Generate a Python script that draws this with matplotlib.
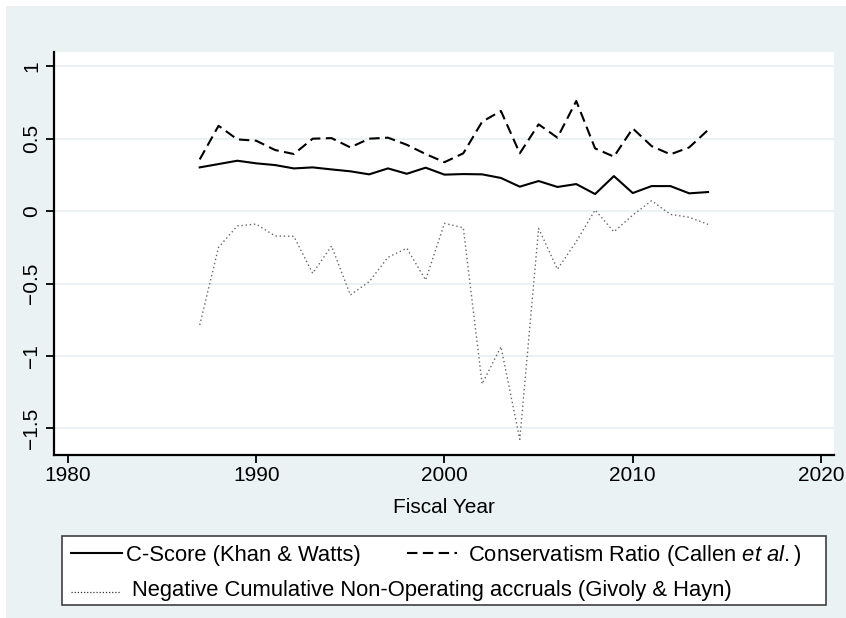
import matplotlib
matplotlib.use("Agg")
import matplotlib.pyplot as plt
import matplotlib.transforms as mtransforms
from matplotlib.lines import Line2D
from matplotlib.patches import Rectangle

plt.rcParams["font.family"] = ["Liberation Sans", "DejaVu Sans"]
plt.rcParams["mathtext.fontset"] = "custom"
plt.rcParams["mathtext.rm"] = "Liberation Sans"
plt.rcParams["mathtext.it"] = "Liberation Sans:italic"

years = list(range(1987, 2015))
c_score = [0.301, 0.324, 0.347, 0.329, 0.317, 0.294, 0.301, 0.287, 0.274, 0.253,
           0.294, 0.257, 0.299, 0.251, 0.255, 0.253, 0.228, 0.168, 0.207, 0.166,
           0.186, 0.117, 0.241, 0.124, 0.172, 0.172, 0.122, 0.131]
cons_ratio = [0.356, 0.588, 0.494, 0.485, 0.421, 0.393, 0.499, 0.503, 0.439, 0.499,
              0.506, 0.457, 0.393, 0.337, 0.398, 0.616, 0.690, 0.398, 0.598, 0.506,
              0.759, 0.432, 0.375, 0.570, 0.448, 0.391, 0.439, 0.559]
neg_accruals = [-0.786, -0.25, -0.103, -0.09, -0.172, -0.175, -0.43, -0.241, -0.579, -0.488,
                -0.319, -0.257, -0.476, -0.085, -0.115, -1.193, -0.936, -1.575, -0.12, -0.402,
                -0.211, 0.007, -0.143, -0.028, 0.071, -0.023, -0.043, -0.092]

x_ticks = [1980, 1990, 2000, 2010, 2020]
y_ticks = [1, 0.5, 0, -0.5, -1, -1.5]
y_tick_labels = ["1", "0.5", "0", "\u22120.5", "\u22121", "\u22121.5"]

labels = ["C-Score (Khan & Watts)",
          "Conservatism Ratio (Callen $\\mathit{et\\ al.}$)",
          "Negative Cumulative Non-Operating accruals (Givoly & Hayn)"]

BG = "#eaf2f3"
W, H = 846, 618

fig = plt.figure(figsize=(W / 100, H / 100), dpi=100, facecolor="white")
# pixel coordinates measured from the top-left corner
px = mtransforms.Affine2D().scale(1 / W, -1 / H).translate(0, 1) + fig.transFigure
fig.add_artist(Rectangle((6, 6), W, H, transform=px, facecolor=BG,
                         edgecolor="none", zorder=-5))

ax = fig.add_axes([54 / W, 1 - 455 / H, (834 - 54) / W, (455 - 52) / H])
ax.set_facecolor("white")

solid_style = dict(color="black", lw=1.5, linestyle="-")
dash_style = dict(color="black", lw=1.5, linestyle=(0, (5, 2.6)))
dot_style = dict(color="#666666", lw=1.0, linestyle=(0, (1, 2)))

ax.plot(years, c_score, **solid_style)
ax.plot(years, cons_ratio, **dash_style)
ax.plot(years, neg_accruals, **dot_style)

ax.set_xlim(1979.26, 2020.69)
ax.set_ylim(-1.683, 1.097)
ax.set_xticks(x_ticks)
ax.set_yticks(y_ticks)
ax.set_yticklabels(y_tick_labels, rotation=90, va="center")
ax.tick_params(axis="both", labelsize=15, length=6, width=1.3, direction="out")
ax.tick_params(axis="x", pad=2)
ax.tick_params(axis="y", pad=3)

ax.grid(axis="y", color=BG, lw=1.5)
ax.set_axisbelow(True)
for side in ("top", "right"):
    ax.spines[side].set_visible(False)
for side in ("left", "bottom"):
    ax.spines[side].set_linewidth(1.6)

ax.set_xlabel("Fiscal Year", fontsize=15)
ax.xaxis.set_label_coords(0.5, -0.1315)
ax.xaxis.label.set_va("center")

# legend box in the Stata layout: two keys on row one, the long key on row two
fig.add_artist(Rectangle((62, 536), 826 - 62, 605 - 536, transform=px,
                         facecolor="white", edgecolor="#404040", lw=1.2))
fs = 15.8
fig.add_artist(Line2D([71, 122], [553, 553], transform=px, **solid_style))
fig.text(126, 561, labels[0], transform=px, fontsize=fs, va="baseline")
fig.add_artist(Line2D([407, 457], [553, 553], transform=px, **dash_style))
fig.text(468, 561, labels[1], transform=px, fontsize=fs, va="baseline")
fig.add_artist(Line2D([71, 120], [592, 592], transform=px, color="#333333",
                      lw=0.9, linestyle=(0, (1, 1.5))))
fig.text(132, 596, labels[2], transform=px, fontsize=fs, va="baseline")

fig.savefig("out.png", dpi=100)
